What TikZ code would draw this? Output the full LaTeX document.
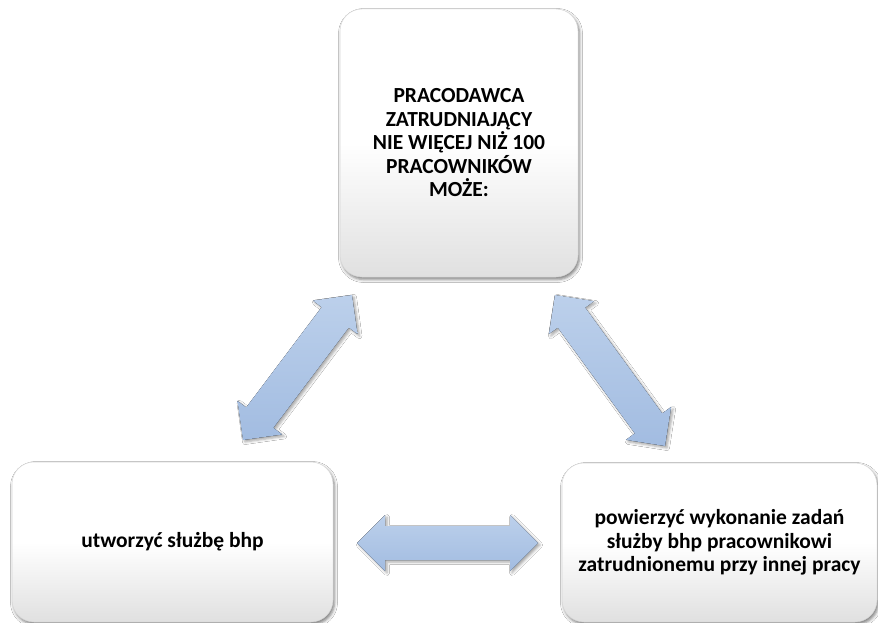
\documentclass[tikz,border=0pt]{standalone}
\usepackage{fontspec}
\setmainfont{Carlito}
\usetikzlibrary{calc,shadows.blur}

\definecolor{arrowtop}{HTML}{BCD0EB}
\definecolor{arrowbot}{HTML}{A2BCE1}
\definecolor{boxedge}{HTML}{D6D6D6}
\definecolor{boxbot}{HTML}{E0E0E0}

\tikzset{
  card/.style={rounded corners=22pt, draw=boxedge, line width=0.5pt,
    top color=white, bottom color=boxbot, middle color=white,
    blur shadow={shadow xshift=1.5pt, shadow yshift=-2.5pt,
      shadow blur radius=3pt, shadow opacity=50},
    font=\bfseries\fontsize{21.5}{23.5}\selectfont, align=center, inner sep=0pt},
  blockarrow/.style={top color=arrowtop, bottom color=arrowbot,
    blur shadow={shadow xshift=2pt, shadow yshift=-2pt,
      shadow blur radius=2.5pt, shadow opacity=35}}
}

% double-headed block arrow between two named coordinates
\newcommand\dblblock[2]{%
  \fill[blockarrow] (#1)
    -- ($(#1)!28pt!(#2)!28pt!90:(#2)$)
    -- ($(#1)!28pt!(#2)!17pt!90:(#2)$)
    -- ($(#2)!28pt!(#1)!17pt!-90:(#1)$)
    -- ($(#2)!28pt!(#1)!28pt!-90:(#1)$)
    -- (#2)
    -- ($(#2)!28pt!(#1)!28pt!90:(#1)$)
    -- ($(#2)!28pt!(#1)!17pt!90:(#1)$)
    -- ($(#1)!28pt!(#2)!17pt!-90:(#2)$)
    -- ($(#1)!28pt!(#2)!28pt!-90:(#2)$)
    -- cycle;}

\begin{document}
\begin{tikzpicture}[x=1pt,y=-1pt]
  \useasboundingbox (0,0) rectangle (878,623);
  \fill[white] (0,0) rectangle (878,623);

  \node[card, minimum width=238pt, minimum height=268pt] (employer) at (459,143)
    {PRACODAWCA\\ZATRUDNIAJĄCY\\NIE WIĘCEJ NIŻ 100\\PRACOWNIKÓW\\MOŻE:};
  \node[card, minimum width=321pt, minimum height=160pt] (own) at (172.5,542)
    {utworzyć służbę bhp};
  \node[card, minimum width=315pt, minimum height=159pt] (assign) at (719.5,542.5)
    {powierzyć wykonanie zadań\\służby bhp pracownikowi\\zatrudnionemu przy innej pracy};

  \coordinate (la) at (243,440);
  \coordinate (lb) at (352,295);
  \coordinate (ra) at (555,295);
  \coordinate (rb) at (665,446);
  \coordinate (ha) at (357,543);
  \coordinate (hb) at (538,543);

  \dblblock{la}{lb}
  \dblblock{ra}{rb}
  \dblblock{ha}{hb}
\end{tikzpicture}
\end{document}
